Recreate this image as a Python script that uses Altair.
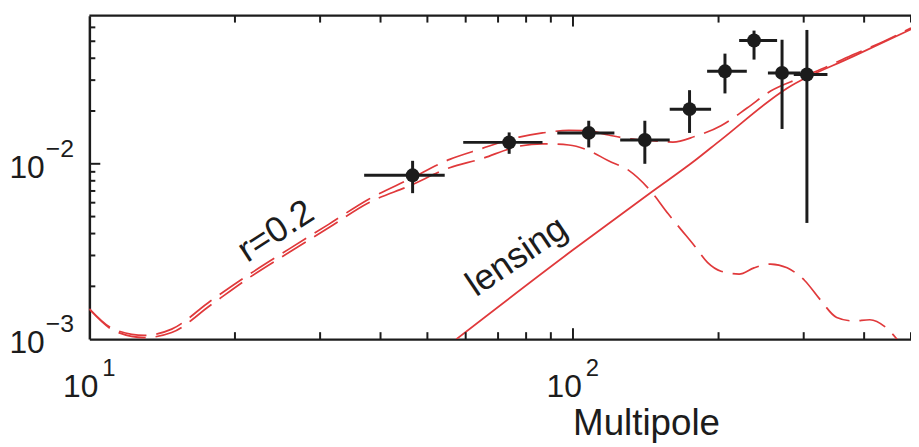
import altair as alt
import pandas as pd

FONT = "Liberation Sans"
INK = "#1c1c1c"
RED = "#e0393b"

# ---- measured band powers (multipole bins) ----
ell = [46.6, 73.8, 107.8, 140.8, 174.2, 206.2, 236.8, 270.6, 304.6]
ell_lo = [37.0, 59.3, 92.8, 125.2, 158.5, 189.4, 220.6, 253.0, 286.1]
ell_hi = [54.3, 86.5, 121.8, 158.5, 193.0, 228.8, 264.3, 295.3, 335.9]
bb = [8.6e-3, 1.325e-2, 1.50e-2, 1.367e-2, 2.05e-2, 3.37e-2, 5.05e-2, 3.30e-2, 3.23e-2]
bb_lo = [6.8e-3, 1.14e-2, 1.24e-2, 1.0e-2, 1.5e-2, 2.52e-2, 3.93e-2, 1.58e-2, 4.6e-3]
bb_hi = [1.04e-2, 1.51e-2, 1.76e-2, 1.76e-2, 2.63e-2, 4.25e-2, 5.75e-2, 5.1e-2, 5.8e-2]

# ---- model curves ----
prim_l = [10, 11.3, 13.0, 14.8, 17.8, 21.5, 25.9, 31.3, 37.8, 46.0, 55.6, 64.1, 77.4,
          86.5, 98.0, 107.8, 118.4, 130.2, 145.4, 157.2, 167.5, 178.4, 189.9, 202.3,
          220.6, 236.8, 256.3, 277.2, 301.3, 324.5, 351.0, 379.7, 410.9, 444.5, 472.0, 500.0]
prim_bb = [1.48e-3, 1.11e-3, 1.02e-3, 1.09e-3, 1.56e-3, 2.26e-3, 3.13e-3, 4.33e-3, 6.0e-3,
           7.5e-3, 9.5e-3, 1.06e-2, 1.26e-2, 1.30e-2, 1.28e-2, 1.19e-2, 1.04e-2, 9.2e-3,
           6.9e-3, 5.2e-3, 4.2e-3, 3.4e-3, 2.73e-3, 2.44e-3, 2.35e-3, 2.55e-3, 2.68e-3,
           2.55e-3, 2.16e-3, 1.68e-3, 1.33e-3, 1.27e-3, 1.29e-3, 1.16e-3, 0.97e-3, 0.8e-3]

tot_l = [10, 11.3, 13.0, 14.8, 17.8, 21.5, 25.9, 31.3, 37.8, 46.0, 55.6, 64.1, 77.4, 86.5,
         98.0, 107.8, 118.4, 130.2, 145.4, 161.0, 178.4, 202.3, 229.1, 256.3, 295.3, 340.0,
         380.0, 440.0, 500.0]
tot_bb = [1.49e-3, 1.13e-3, 1.05e-3, 1.14e-3, 1.65e-3, 2.36e-3, 3.27e-3, 4.53e-3, 6.28e-3,
          8.2e-3, 1.06e-2, 1.21e-2, 1.42e-2, 1.50e-2, 1.55e-2, 1.54e-2, 1.46e-2, 1.39e-2,
          1.355e-2, 1.33e-2, 1.43e-2, 1.65e-2, 2.08e-2, 2.6e-2, 3.09e-2, 3.65e-2, 4.2e-2,
          5.0e-2, 5.95e-2]

lens_l = [57.4, 99.6, 145.4, 178.4, 202.3, 277.2, 379.7, 500.0]
lens_bb = [1.0e-3, 3.2e-3, 6.9e-3, 1.04e-2, 1.37e-2, 2.7e-2, 4.1e-2, 5.85e-2]

# ---- axis ticks and labels ----
x_minor = [20, 30, 40, 50, 60, 70, 80, 90, 200, 300, 400, 500]
x_major = [100]
y_minor = [0.002, 0.003, 0.004, 0.005, 0.006, 0.007, 0.008, 0.009,
           0.02, 0.03, 0.04, 0.05, 0.06]
y_major = [0.01]
x_label_vals = [10, 100]
x_label_exp = ["1", "2"]
y_label_vals = [0.01, 0.001]
y_label_exp = ["\u22122", "\u22123"]

annot_text = ["r=0.2", "lensing"]
annot_x = [24.3, 76.5]
annot_y = [4.12e-3, 2.96e-3]
annot_angle = [327, 326]
annot_size = [36, 36]

W, H = 828, 326
xs = alt.Scale(type="log", domain=[10, 500], nice=False)
ys = alt.Scale(type="log", domain=[0.001, 0.07], nice=False)

prim = pd.DataFrame({"l": prim_l, "bb": prim_bb})
tot = pd.DataFrame({"l": tot_l, "bb": tot_bb})
lens = pd.DataFrame({"l": lens_l, "bb": lens_bb})
pts = pd.DataFrame({"l": ell, "llo": ell_lo, "lhi": ell_hi,
                    "bb": bb, "bblo": bb_lo, "bbhi": bb_hi})

x_axis = alt.Axis(title="Multipole", labels=False, ticks=False, grid=False,
                  domain=True, domainColor=INK, domainWidth=2.5,
                  titleFont=FONT, titleFontSize=37, titleFontWeight="normal",
                  titleColor=INK, titleX=561, titleY=96, titleAlign="center",
                  titleBaseline="alphabetic")
y_axis = alt.Axis(title="", labels=False, ticks=False, grid=False,
                  domain=True, domainColor=INK, domainWidth=2.5)


def X(f):
    return alt.X(f, type="quantitative", scale=xs, axis=x_axis)


def Y(f):
    return alt.Y(f, type="quantitative", scale=ys, axis=y_axis)


prim_line = alt.Chart(prim).mark_line(
    color=RED, strokeWidth=1.7, strokeDash=[28, 10], clip=True, interpolate="monotone"
).encode(x=X("l"), y=Y("bb"))

tot_line = alt.Chart(tot).mark_line(
    color=RED, strokeWidth=1.7, strokeDash=[28, 10], clip=True, interpolate="monotone"
).encode(x=X("l"), y=Y("bb"))

lens_line = alt.Chart(lens).mark_line(
    color=RED, strokeWidth=1.8, clip=True, interpolate="monotone"
).encode(x=X("l"), y=Y("bb"))

hbars = alt.Chart(pts).mark_rule(color=INK, strokeWidth=3).encode(
    x=X("llo"), x2="lhi:Q", y=Y("bb"))
vbars = alt.Chart(pts).mark_rule(color=INK, strokeWidth=3).encode(
    x=X("l"), y=Y("bblo"), y2="bbhi:Q")
dots = alt.Chart(pts).mark_circle(size=195, color=INK, opacity=1).encode(
    x=X("l"), y=Y("bb"))


def xticks(vals, y0, y1):
    return alt.Chart(pd.DataFrame({"v": vals})).mark_rule(color=INK, strokeWidth=2).encode(
        x=X("v"), y=alt.value(y0), y2=alt.value(y1))


def yticks(vals, x0, x1):
    return alt.Chart(pd.DataFrame({"v": vals})).mark_rule(color=INK, strokeWidth=2).encode(
        y=Y("v"), x=alt.value(x0), x2=alt.value(x1))


ticks = [
    xticks(x_minor, H, H - 7), xticks(x_major, H, H - 11),
    xticks(x_minor, 0, 7), xticks(x_major, 0, 11),
    yticks(y_minor, 0, 6), yticks(y_major, 0, 11),
]

top_frame = alt.Chart(pd.DataFrame({"v": [0]})).mark_rule(color=INK, strokeWidth=2.5).encode(
    x=alt.value(0), x2=alt.value(W), y=alt.value(0))

xl = pd.DataFrame({"v": x_label_vals, "base": ["10", "10"], "exp": x_label_exp})
yl = pd.DataFrame({"v": y_label_vals, "base": ["10", "10"], "exp": y_label_exp})

xbase = alt.Chart(xl).mark_text(align="right", baseline="alphabetic", font=FONT,
                                fontSize=32, color=INK, dx=9).encode(
    x=X("v"), y=alt.value(H + 58), text="base:N")
xexp = alt.Chart(xl).mark_text(align="left", baseline="alphabetic", font=FONT,
                               fontSize=24, color=INK, dx=13).encode(
    x=X("v"), y=alt.value(H + 37), text="exp:N")
ybase = alt.Chart(yl).mark_text(align="right", baseline="alphabetic", font=FONT,
                                fontSize=32, color=INK, dy=14).encode(
    x=alt.value(-45), y=Y("v"), text="base:N")
yexp = alt.Chart(yl).mark_text(align="left", baseline="alphabetic", font=FONT,
                               fontSize=25, color=INK, dy=-7).encode(
    x=alt.value(-44), y=Y("v"), text="exp:N")

annots = []
for t, ax, ay, ang, fs in zip(annot_text, annot_x, annot_y, annot_angle, annot_size):
    df = pd.DataFrame({"t": [t], "x": [ax], "y": [ay]})
    annots.append(alt.Chart(df).mark_text(align="center", baseline="middle", font=FONT,
                                          fontSize=fs, color=INK, angle=ang).encode(
        x=X("x"), y=Y("y"), text="t:N"))

chart = alt.layer(
    prim_line, tot_line, lens_line, *ticks, top_frame,
    hbars, vbars, dots, xbase, xexp, ybase, yexp, *annots
).properties(
    width=W, height=H,
    padding={"left": 82, "top": 6, "right": 0, "bottom": 104},
    autosize=alt.AutoSizeParams(type="none"),
    background="white",
).configure_view(stroke=None)

chart.save("out.html", embed_options={"renderer": "svg", "actions": False})
